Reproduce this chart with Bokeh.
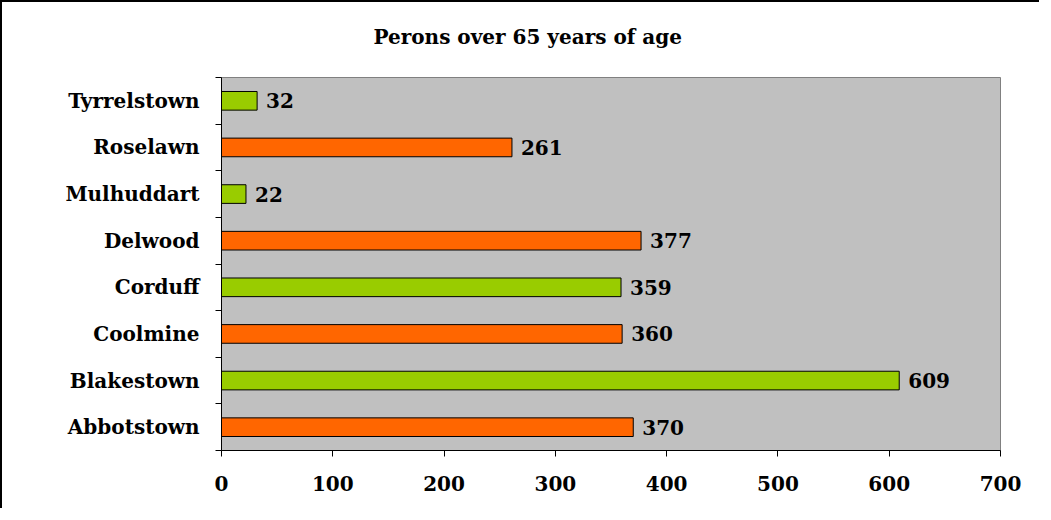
from bokeh.plotting import figure
from bokeh.models import ColumnDataSource, FixedTicker, Range1d, Title
from bokeh.core.properties import value
from bokeh.embed import file_html
from bokeh.resources import INLINE

categories = ["Abbotstown", "Blakestown", "Coolmine", "Corduff", "Delwood", "Mulhuddart", "Roselawn", "Tyrrelstown"]
counts = [370, 609, 360, 359, 377, 22, 261, 32]
colors = ["#FF6600", "#99CC00", "#FF6600", "#99CC00", "#FF6600", "#99CC00", "#FF6600", "#99CC00"]
x_ticks = [0, 100, 200, 300, 400, 500, 600, 700]
title_text = "Perons over 65 years of age"

FONT = "DejaVu Serif"
FS = "20px"
positions = list(range(1, len(categories) + 1))

src = ColumnDataSource(dict(y=positions, v=counts, c=colors, lbl=[str(v) for v in counts], name=categories))

p = figure(width=1039, height=508, output_backend="svg", toolbar_location=None,
           x_range=Range1d(0, 700), y_range=Range1d(0.5, len(categories) + 0.5),
           min_border_left=219, min_border_right=41, min_border_top=75, min_border_bottom=60,
           background_fill_color="#C0C0C0", border_fill_color="white",
           outline_line_color="#808080", title=None)
p.styles = {"border-left": "2px solid black", "border-top": "2px solid black"}

p.grid.visible = False

p.hbar(y="y", right="v", left=0, height=0.4, fill_color="c", line_color="black", line_width=1, source=src)
p.text(x="v", y="y", text="lbl", x_offset=9, text_baseline="middle", text_align="left",
       text_font=value(FONT), text_font_style="bold", text_font_size=FS, text_color="black", source=src)

# x axis
xa = p.xaxis[0]
xa.ticker = FixedTicker(ticks=x_ticks)
xa.axis_line_color = "black"
xa.major_tick_in = 0
xa.major_tick_out = 6
xa.minor_tick_line_color = None
xa.major_label_standoff = 19
xa.major_label_text_font = FONT
xa.major_label_text_font_style = "bold"
xa.major_label_text_font_size = FS
xa.major_label_text_color = "black"

# y axis: labels at category centres, ticks at boundaries
ya = p.yaxis[0]
ya.ticker = FixedTicker(ticks=positions, minor_ticks=[k + 0.5 for k in range(0, len(categories) + 1)])
ya.major_label_overrides = {pos: name for pos, name in zip(positions, categories)}
ya.axis_line_color = "black"
ya.major_tick_line_color = None
ya.major_tick_in = 0
ya.major_tick_out = 0
ya.minor_tick_in = 0
ya.minor_tick_out = 6
ya.minor_tick_line_color = "black"
ya.major_label_standoff = 16
ya.major_label_text_font = FONT
ya.major_label_text_font_style = "bold"
ya.major_label_text_font_size = FS
ya.major_label_text_color = "black"

p.add_layout(Title(text=" ", text_font_size="11px"), "above")
p.add_layout(Title(text=title_text, text_font=FONT, text_font_style="bold", text_font_size=FS,
                   align="left", offset=152, text_color="black"), "above")

open("out.html", "w").write(file_html(p, INLINE))
